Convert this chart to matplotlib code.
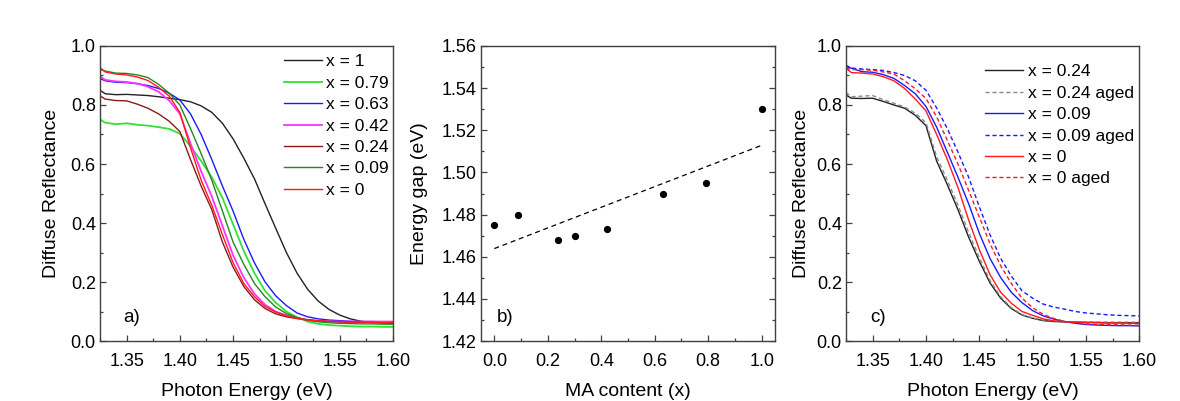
import numpy as np
import matplotlib.pyplot as plt
from matplotlib.ticker import MultipleLocator, FormatStrFormatter

plt.rcParams['font.family'] = ['Liberation Sans', 'DejaVu Sans']

# photon energy grid (eV) shared by the reflectance curves
energy = [1.325, 1.33, 1.34, 1.35, 1.36, 1.37, 1.38, 1.39, 1.40, 1.41,
          1.42, 1.43, 1.44, 1.45, 1.46, 1.47, 1.48, 1.49, 1.50, 1.51,
          1.52, 1.53, 1.54, 1.55, 1.56, 1.57, 1.58, 1.59, 1.60]

# a) diffuse reflectance for each MA content
refl_x100 = [0.850, 0.838, 0.835, 0.836, 0.834, 0.832, 0.828, 0.823, 0.818, 0.811,
             0.797, 0.775, 0.738, 0.685, 0.620, 0.550, 0.465, 0.382, 0.300, 0.230,
             0.175, 0.135, 0.107, 0.088, 0.075, 0.067, 0.063, 0.062, 0.060]
refl_x079 = [0.751, 0.740, 0.735, 0.738, 0.733, 0.730, 0.725, 0.719, 0.703, 0.660,
             0.610, 0.555, 0.485, 0.395, 0.305, 0.230, 0.170, 0.130, 0.100, 0.080,
             0.066, 0.058, 0.054, 0.052, 0.050, 0.049, 0.049, 0.048, 0.048]
refl_x063 = [0.890, 0.882, 0.877, 0.876, 0.872, 0.866, 0.856, 0.840, 0.817, 0.770,
             0.700, 0.615, 0.525, 0.440, 0.345, 0.265, 0.200, 0.153, 0.120, 0.095,
             0.082, 0.075, 0.071, 0.069, 0.067, 0.066, 0.066, 0.065, 0.065]
refl_x042 = [0.897, 0.885, 0.880, 0.878, 0.873, 0.862, 0.845, 0.815, 0.770, 0.670,
             0.575, 0.490, 0.390, 0.290, 0.215, 0.160, 0.123, 0.100, 0.087, 0.078,
             0.072, 0.069, 0.067, 0.066, 0.066, 0.066, 0.066, 0.066, 0.066]
refl_x024 = [0.831, 0.820, 0.815, 0.814, 0.803, 0.789, 0.770, 0.745, 0.710, 0.615,
             0.525, 0.445, 0.335, 0.250, 0.185, 0.140, 0.110, 0.092, 0.082, 0.076,
             0.072, 0.068, 0.066, 0.065, 0.064, 0.063, 0.063, 0.062, 0.062]
refl_x009 = [0.920, 0.915, 0.908, 0.907, 0.902, 0.893, 0.870, 0.840, 0.800, 0.720,
             0.635, 0.545, 0.440, 0.335, 0.260, 0.195, 0.150, 0.115, 0.093, 0.080,
             0.070, 0.065, 0.062, 0.060, 0.059, 0.058, 0.058, 0.057, 0.057]
refl_x000 = [0.927, 0.912, 0.905, 0.902, 0.895, 0.883, 0.860, 0.830, 0.775, 0.655,
             0.545, 0.460, 0.360, 0.265, 0.195, 0.150, 0.117, 0.098, 0.085, 0.077,
             0.071, 0.068, 0.066, 0.065, 0.064, 0.064, 0.063, 0.063, 0.063]

labels_a = ['x = 1', 'x = 0.79', 'x = 0.63', 'x = 0.42', 'x = 0.24', 'x = 0.09', 'x = 0']
colors_a = ['#222222', '#33e033', '#1a1aff', '#ff33ff', '#8b1a1a', '#1f8a1f', '#ff1a1a']

# b) energy gap vs MA content
ma_content = [0.0, 0.09, 0.24, 0.30, 0.42, 0.63, 0.79, 1.0]
energy_gap = [1.475, 1.480, 1.468, 1.470, 1.473, 1.490, 1.495, 1.530]

# c) fresh and aged films
fresh_024 = [0.834, 0.823, 0.822, 0.823, 0.812, 0.800, 0.789, 0.765, 0.730, 0.610,
             0.530, 0.445, 0.352, 0.270, 0.197, 0.145, 0.110, 0.088, 0.077, 0.069,
             0.066, 0.065, 0.064, 0.063, 0.063, 0.062, 0.062, 0.062, 0.062]
aged_024 = [0.842, 0.828, 0.830, 0.832, 0.818, 0.806, 0.793, 0.772, 0.740, 0.625,
            0.545, 0.460, 0.368, 0.283, 0.205, 0.150, 0.113, 0.090, 0.078, 0.071,
            0.068, 0.066, 0.065, 0.065, 0.064, 0.064, 0.064, 0.064, 0.064]
fresh_009 = [0.930, 0.925, 0.913, 0.911, 0.903, 0.890, 0.866, 0.838, 0.795, 0.725,
             0.640, 0.555, 0.465, 0.365, 0.280, 0.215, 0.165, 0.130, 0.103, 0.085,
             0.074, 0.066, 0.060, 0.056, 0.054, 0.053, 0.052, 0.052, 0.051]
aged_009 = [0.935, 0.925, 0.922, 0.920, 0.917, 0.910, 0.900, 0.882, 0.850, 0.790,
            0.720, 0.640, 0.555, 0.455, 0.360, 0.280, 0.220, 0.170, 0.145, 0.125,
            0.115, 0.108, 0.100, 0.095, 0.092, 0.089, 0.087, 0.086, 0.085]
fresh_000 = [0.925, 0.910, 0.908, 0.905, 0.896, 0.882, 0.856, 0.820, 0.780, 0.700,
             0.615, 0.520, 0.410, 0.310, 0.225, 0.165, 0.128, 0.100, 0.087, 0.075,
             0.068, 0.065, 0.064, 0.063, 0.062, 0.061, 0.061, 0.060, 0.060]
aged_000 = [0.925, 0.920, 0.920, 0.918, 0.912, 0.905, 0.882, 0.855, 0.822, 0.760,
            0.680, 0.600, 0.510, 0.420, 0.330, 0.255, 0.195, 0.145, 0.113, 0.090,
            0.076, 0.066, 0.061, 0.058, 0.056, 0.055, 0.055, 0.054, 0.054]

labels_c = ['x = 0.24', 'x = 0.24 aged', 'x = 0.09', 'x = 0.09 aged', 'x = 0', 'x = 0 aged']

SPINE = '#404040'


def style_axes(ax, right_ticks=False):
    for s in ax.spines.values():
        s.set_color(SPINE)
        s.set_linewidth(1.0)
    ax.tick_params(which='both', direction='in', colors=SPINE, labelcolor='black',
                   labelsize=13, right=right_ticks)
    ax.tick_params(which='major', length=4, width=0.9)
    ax.tick_params(which='minor', length=2.5, width=0.9)
    ax.tick_params(axis='x', pad=8.5)
    ax.tick_params(axis='y', pad=3)


fig = plt.figure(figsize=(11.8, 4.01), dpi=100)
ax1 = fig.add_axes([0.0847, 0.1496, 0.2483, 0.7357])
ax2 = fig.add_axes([0.4076, 0.1496, 0.2492, 0.7357])
ax3 = fig.add_axes([0.7169, 0.1496, 0.2487, 0.7357])

# panel a
for y, lab, col in zip([refl_x100, refl_x079, refl_x063, refl_x042,
                        refl_x024, refl_x009, refl_x000], labels_a, colors_a):
    lw = 1.3 if col in ('#33e033', '#ff33ff') else 1.0
    ax1.plot(energy, y, color=col, lw=lw, label=lab)

# panel c
ax3.plot(energy, fresh_024, color='#222222', lw=1.0, label=labels_c[0])
ax3.plot(energy, aged_024, color='#8a8a8a', lw=1.0, ls=(0, (3, 2)), label=labels_c[1])
ax3.plot(energy, fresh_009, color='#1a1aff', lw=1.0, label=labels_c[2])
ax3.plot(energy, aged_009, color='#1a1aff', lw=1.0, ls=(0, (3, 2)), label=labels_c[3])
ax3.plot(energy, fresh_000, color='#ff1a1a', lw=1.0, label=labels_c[4])
ax3.plot(energy, aged_000, color='#ff1a1a', lw=1.0, ls=(0, (3, 2)), label=labels_c[5])

for ax in (ax1, ax3):
    style_axes(ax)
    ax.set_xlim(1.325, 1.60)
    ax.set_ylim(0.0, 1.0)
    ax.xaxis.set_major_locator(MultipleLocator(0.05))
    ax.xaxis.set_minor_locator(MultipleLocator(0.025))
    ax.yaxis.set_major_locator(MultipleLocator(0.2))
    ax.yaxis.set_minor_locator(MultipleLocator(0.1))
    ax.xaxis.set_major_formatter(FormatStrFormatter('%.2f'))
    ax.yaxis.set_major_formatter(FormatStrFormatter('%.1f'))
    ax.set_xlabel('Photon Energy (eV)', fontsize=14)
    ax.set_ylabel('Diffuse Reflectance', fontsize=14)
    ax.xaxis.set_label_coords(0.5, -0.143)

ax1.yaxis.set_label_coords(-0.135, 0.5)
ax3.yaxis.set_label_coords(-0.122, 0.5)

legend_kw = dict(loc='upper left', frameon=False, fontsize=12.5, borderpad=0,
                 borderaxespad=0, handlelength=2.2, handletextpad=0.25,
                 labelspacing=0.36)
ax1.legend(bbox_to_anchor=(0.628, 0.972), **legend_kw)
ax3.legend(bbox_to_anchor=(0.474, 0.938), **legend_kw)

# panel b: points and linear fit
slope, intercept = np.polyfit(ma_content, energy_gap, 1)
fit_x = np.array([0.0, 1.0])
ax2.plot(fit_x, intercept + slope * fit_x, color='black', lw=0.9, ls=(0, (4, 3)))
ax2.plot(ma_content, energy_gap, 'o', color='black', ms=4.2)
style_axes(ax2, right_ticks=True)
ax2.set_xlim(-0.05, 1.05)
ax2.set_ylim(1.42, 1.56)
ax2.xaxis.set_major_locator(MultipleLocator(0.2))
ax2.xaxis.set_minor_locator(MultipleLocator(0.1))
ax2.yaxis.set_major_locator(MultipleLocator(0.02))
ax2.yaxis.set_minor_locator(MultipleLocator(0.01))
ax2.xaxis.set_major_formatter(FormatStrFormatter('%.1f'))
ax2.yaxis.set_major_formatter(FormatStrFormatter('%.2f'))
ax2.set_xlabel('MA content (x)', fontsize=14)
ax2.set_ylabel('Energy gap (eV)', fontsize=14)
ax2.xaxis.set_label_coords(0.5, -0.143)
ax2.yaxis.set_label_coords(-0.18, 0.5)

ax1.text(0.08, 0.065, 'a)', transform=ax1.transAxes, fontsize=13.5, va='baseline')
ax2.text(0.055, 0.065, 'b)', transform=ax2.transAxes, fontsize=13.5, va='baseline')
ax3.text(0.084, 0.065, 'c)', transform=ax3.transAxes, fontsize=13.5, va='baseline')

fig.savefig('out.png', dpi=100)
